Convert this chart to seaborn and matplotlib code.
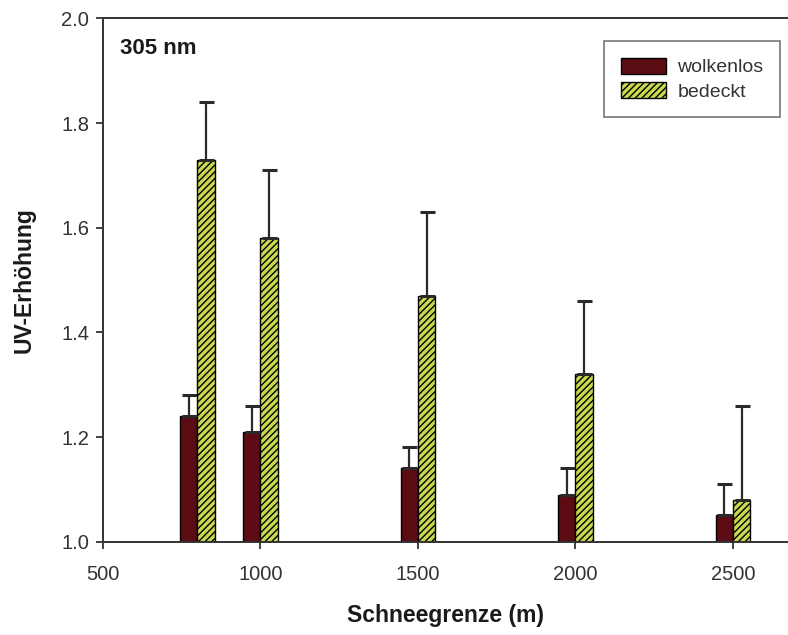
import matplotlib
matplotlib.use("Agg")
import matplotlib.pyplot as plt
import seaborn as sns
import pandas as pd
import numpy as np

# Snow line altitudes (m)
schneegrenze = [800, 1000, 1500, 2000, 2500]
# UV enhancement, clear sky
wolkenlos = [1.24, 1.21, 1.14, 1.09, 1.05]
wolkenlos_err = [0.04, 0.05, 0.04, 0.05, 0.06]
# UV enhancement, overcast
bedeckt = [1.73, 1.58, 1.47, 1.32, 1.08]
bedeckt_err = [0.11, 0.13, 0.16, 0.14, 0.18]

series = ["wolkenlos", "bedeckt"]
colors = {"wolkenlos": "#5a0c12", "bedeckt": "#c9d84c"}

df = pd.DataFrame({
    "Schneegrenze": schneegrenze * 2,
    "Wert": wolkenlos + bedeckt,
    "Fehler": wolkenlos_err + bedeckt_err,
    "Bedingung": [series[0]] * 5 + [series[1]] * 5,
})

sns.set_style("ticks")
plt.rcParams["font.family"] = ["Liberation Sans", "DejaVu Sans"]
plt.rcParams["hatch.linewidth"] = 1.0
plt.rcParams["hatch.color"] = "black"

fig = plt.figure(figsize=(7.88, 6.35), dpi=100)
ax = fig.add_axes([103 / 788, 0.147, 1 - 103 / 788, 0.824])

sns.barplot(
    data=df, x="Schneegrenze", y="Wert", hue="Bedingung",
    hue_order=series, palette=colors, native_scale=True,
    width=0.55, dodge=True, errorbar=None, edgecolor="black",
    linewidth=1.0, saturation=1, ax=ax, legend=True,
)

# Hatch the overcast bars and add upward-only error bars
for cont, name in zip(ax.containers, series):
    sub = df[df["Bedingung"] == name]
    for patch, val, err in zip(cont.patches, sub["Wert"], sub["Fehler"]):
        if name == "bedeckt":
            patch.set_hatch("/////")
        patch.set_y(1.0)
        patch.set_height(val - 1.0)
        xc = patch.get_x() + patch.get_width() / 2
        ax.errorbar(xc, val, yerr=[[0], [err]], fmt="none", ecolor="#2a2a2a",
                    elinewidth=1.6, capsize=5.4, capthick=2.2, zorder=1)

ax.set_xlim(500, 2675)
ax.set_ylim(1.0, 2.0)
ax.set_xticks([500, 1000, 1500, 2000, 2500])
ax.set_yticks([1.0, 1.2, 1.4, 1.6, 1.8, 2.0])
ax.set_yticklabels(["1.0", "1.2", "1.4", "1.6", "1.8", "2.0"])
ax.tick_params(axis="both", labelsize=14.5, colors="#333333", direction="out",
               length=5, width=1.3, labelcolor="#333333")
ax.tick_params(axis="x", pad=12)
ax.tick_params(axis="y", pad=5)
for s in ["left", "bottom", "top"]:
    ax.spines[s].set_visible(True)
    ax.spines[s].set_linewidth(1.4)
    ax.spines[s].set_color("#333333")
ax.spines["right"].set_visible(False)

ax.set_xlabel("Schneegrenze (m)", fontsize=16.5, fontweight="bold", labelpad=14,
              color="#1a1a1a")
ax.set_ylabel("UV-Erhöhung", fontsize=16.5, fontweight="bold", labelpad=18,
              color="#1a1a1a")
ax.text(0.025, 0.962, "305 nm", transform=ax.transAxes, fontsize=16,
        fontweight="bold", va="top", ha="left", color="#1a1a1a")

handles, labels = ax.get_legend_handles_labels()
leg = ax.legend(handles, labels, loc="upper right",
                bbox_to_anchor=(780 / 788, 1 - 41 / 635),
                bbox_transform=fig.transFigure, fontsize=14, frameon=True,
                fancybox=False, edgecolor="#555555", borderpad=0.85,
                handlelength=2.3, handleheight=0.9, handletextpad=0.6,
                labelspacing=0.3, borderaxespad=0)
leg.get_frame().set_linewidth(1.2)
for t in leg.get_texts():
    t.set_color("#333333")
for h in leg.legend_handles:
    h.set_edgecolor("black")
leg.legend_handles[1].set_hatch("/////")

fig.savefig("out.png", dpi=100)
